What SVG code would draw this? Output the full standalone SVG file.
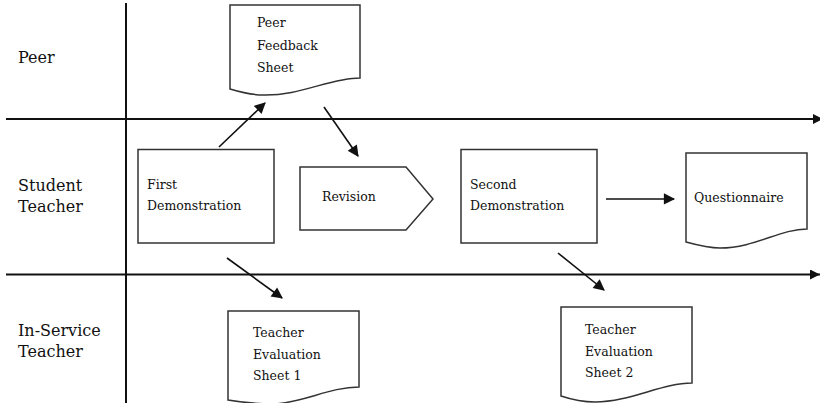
<svg xmlns="http://www.w3.org/2000/svg" width="820" height="403" viewBox="0 0 820 403">
<style>
.lane{font-family:"DejaVu Serif","Liberation Serif",serif;font-size:16px;fill:#111}
.t{font-family:"DejaVu Serif","Liberation Serif",serif;font-size:12.5px;fill:#111}
.shape{fill:#fff;stroke:#333;stroke-width:1.5}
.ax{stroke:#111;stroke-width:2;fill:none}
.arr{stroke:#111;stroke-width:1.6;fill:none;marker-end:url(#ah)}
</style>
<defs>
<marker id="ah" viewBox="0 0 10 10" refX="9" refY="5" markerWidth="7" markerHeight="7" markerUnits="userSpaceOnUse" orient="auto" style="overflow:visible">
<path d="M0,0 L10,5 L0,10 z" fill="#111" transform="scale(1.6) translate(-3.4,-1.9)"/>
</marker>
<marker id="axh" viewBox="0 0 10 10" refX="10" refY="5" markerWidth="10" markerHeight="10" markerUnits="userSpaceOnUse" orient="auto">
<path d="M0,0 L10,5 L0,10 z" fill="#111"/>
</marker>
</defs>
<rect width="820" height="403" fill="#fff"/>
<g id="lanes">
<line class="ax" x1="126" y1="3" x2="126" y2="403"/>
<line class="ax" x1="6" y1="119" x2="823" y2="119" marker-end="url(#axh)"/>
<line class="ax" x1="6" y1="274.5" x2="820" y2="274.5" marker-end="url(#axh)"/>
<text class="lane" x="18" y="63">Peer</text>
<text class="lane" x="18" y="191">Student</text>
<text class="lane" x="18" y="212">Teacher</text>
<text class="lane" x="18" y="336">In-Service</text>
<text class="lane" x="18" y="357">Teacher</text>
</g>
<g id="peer-feedback">
<path class="shape" d="M230,5 H360 V78 C330,78 300,96 263,95 C250,95 240,92 230,89 Z"/>
<text class="t" x="257" y="27">Peer</text>
<text class="t" x="257" y="50">Feedback</text>
<text class="t" x="257" y="72">Sheet</text>
</g>
<g id="first-demo">
<rect class="shape" x="138" y="149.5" width="136" height="93.5"/>
<text class="t" x="147" y="189">First</text>
<text class="t" x="147" y="210">Demonstration</text>
</g>
<g id="revision">
<path class="shape" d="M300,167 H406 L433,199 L406,230 H300 Z"/>
<text class="t" x="322" y="201">Revision</text>
</g>
<g id="second-demo">
<rect class="shape" x="461" y="149.5" width="136" height="93.5"/>
<text class="t" x="470" y="189">Second</text>
<text class="t" x="470" y="210">Demonstration</text>
</g>
<g id="questionnaire">
<path class="shape" d="M686,153 H807 V229 C780,229 755,248 720,248 C708,248 697,245 686,242 Z"/>
<text class="t" x="694" y="202">Questionnaire</text>
</g>
<g id="eval-1">
<path class="shape" d="M228,311 H359 V387 C330,387 305,402 275,404 C255,404 240,402 228,400 Z"/>
<text class="t" x="253" y="337">Teacher</text>
<text class="t" x="253" y="359">Evaluation</text>
<text class="t" x="253" y="380">Sheet 1</text>
</g>
<g id="eval-2">
<path class="shape" d="M561,307 H692 V383 C662,383 630,402 595,402 C580,402 570,399 561,396 Z"/>
<text class="t" x="585" y="334">Teacher</text>
<text class="t" x="585" y="356">Evaluation</text>
<text class="t" x="585" y="377">Sheet 2</text>
</g>
<g id="connectors">
<line class="arr" x1="219" y1="147" x2="265" y2="103"/>
<line class="arr" x1="324" y1="107" x2="358" y2="156"/>
<line class="arr" x1="227" y1="258" x2="282" y2="298"/>
<line class="arr" x1="558" y1="253" x2="604" y2="290"/>
<line class="arr" x1="606" y1="199" x2="674" y2="199"/>
</g>
</svg>
